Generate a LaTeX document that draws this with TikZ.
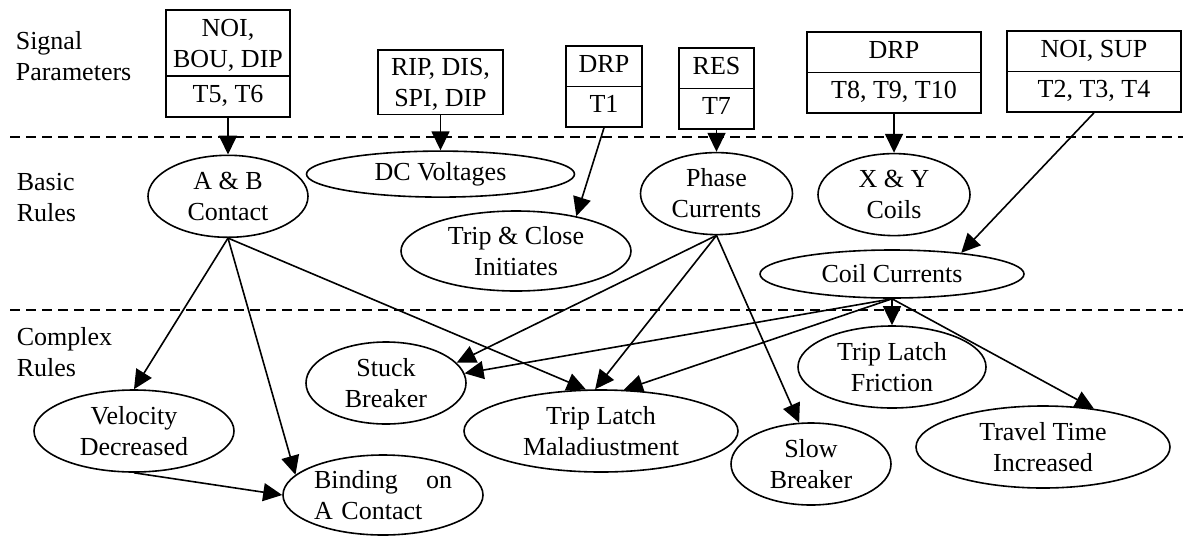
\documentclass[tikz,border=0pt]{standalone}
\usepackage{fontspec}
\setmainfont{Liberation Serif}
\usepackage{tikz}
\usetikzlibrary{arrows.meta}
\usetikzlibrary{shapes,shapes.multipart}
\usetikzlibrary{positioning}

\begin{document}
\begin{tikzpicture}[x=1pt,y=1pt,line width=1.6pt,>={Triangle[length=19pt,width=18pt]},
  every node/.style={font=\fontsize{26}{31}\selectfont},
  lbl/.style={anchor=north west,align=left,inner sep=0pt},
  sigbox/.style={draw,rectangle,anchor=north,align=center,inner xsep=4pt,inner ysep=4pt,minimum width=#1},
  splitbox/.style={sigbox=#1,rectangle split,rectangle split parts=2},
  rule/.style args={#1 by #2}{draw,ellipse,inner sep=0pt,align=center,minimum width=#1,minimum height=#2},
  sepline/.style={dash pattern=on 10pt off 6pt}]
\useasboundingbox (0,0) rectangle (1183,-536);
%
\node[lbl] (sig) at (15,-31) {Signal\\Parameters};
\node[lbl] (bas) at (16,-172) {Basic\\Rules};
\node[lbl] (cpx) at (16,-327) {Complex\\Rules};
%
\draw[sepline] (10,-137) -- (1183,-137);
\draw[sepline] (10,-310) -- (1183,-310);
%
\node[splitbox=124pt] (box1) at (228,-9) {\strut NOI,\\BOU, DIP \nodepart{two}\strut T5, T6};
\node[sigbox=125pt] (box2) at (440.5,-49) {\strut RIP, DIS,\\SPI, DIP};
\node[splitbox=76pt] (box3) at (604,-45) {\strut DRP \nodepart{two}\strut T1};
\node[splitbox=75pt] (box4) at (716.5,-47) {\strut RES \nodepart{two}\strut T7};
\node[splitbox=174pt] (box5) at (894,-31) {\strut DRP \nodepart{two}\strut T8, T9, T10};
\node[splitbox=174pt] (box6) at (1094,-30) {\strut NOI, SUP \nodepart{two}\strut T2, T3, T4};
%
\node[rule=160pt by 82pt,below=37pt of box1] (ab) {A \& B\\Contact};
\node[rule=268pt by 46pt,below=35pt of box2] (dcv) {DC Voltages};
\node[rule=230pt by 80pt] (tci) at (516,-251) {Trip \& Close\\Initiates};
\node[rule=152pt by 82pt,below=22pt of box4] (phase) {Phase\\Currents};
\node[rule=152pt by 82pt,below=39pt of box5] (xy) {X \& Y\\Coils};
\node[rule=264pt by 48pt] (coil) at (892,-274) {Coil Currents};
%
\node[rule=160pt by 82pt] (stuck) at (386,-383) {Stuck\\Breaker};
\node[rule=200pt by 82pt] (vel) at (134,-431) {Velocity\\Decreased};
\node[rule=200pt by 80pt,text width=138pt,align=left] (bind) at (383,-495) {Binding\hfill on\\A Contact};
\node[rule=274pt by 82pt] (tlm) at (601,-431) {Trip Latch\\Maladiustment};
\node[rule=160pt by 82pt] (slow) at (811,-464) {Slow\\Breaker};
\node[rule=188pt by 82pt] (tlf) at (892,-367) {Trip Latch\\Friction};
\node[rule=254pt by 82pt] (trav) at (1043,-447) {Travel Time\\Increased};
%
\draw[->] (box1.south) -- (ab.north);
\draw[->] (box2.south) -- (dcv.north);
\draw[->] (box3.south) -- (tci.30);
\draw[->] (box4.south) -- (phase.north);
\draw[->] (box5.south) -- (xy.north);
\draw[->] (box6.south) -- (coil.17);
%
\draw[->] (ab.south) -- (vel.north);
\draw[->] (ab.south) -- (bind.167);
\draw[->] (ab.south) -- (tlm.110);
\draw[->] (phase.south) -- (stuck.16);
\draw[->] (phase.south) -- (tlm.98);
\draw[->] (phase.south) -- (slow.106);
\draw[->] (coil.south) -- (stuck.7);
\draw[->] (coil.south) -- (tlm.61);
\draw[->] (coil.south) -- (tlf.north);
\draw[->] (coil.south) -- (trav.37);
\draw[->] (vel.south) -- (bind.west);
%
\end{tikzpicture}
\end{document}
